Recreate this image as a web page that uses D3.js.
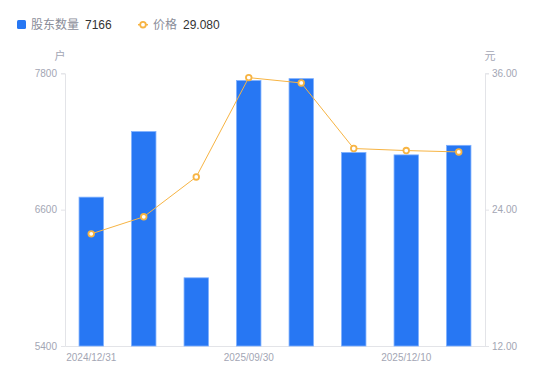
<!DOCTYPE html>
<html>
<head>
<meta charset="utf-8">
<script src="https://cdn.jsdelivr.net/npm/d3@7"></script>
<style>
  body { margin: 0; background: #fff; }
  svg { display: block; font-family: "Liberation Sans", "Noto Sans CJK SC", sans-serif; }
</style>
</head>
<body>
<div id="chart"></div>
<script>
// ---------------- data ----------------
const dates = ["2024/12/31", "2025/03/31", "2025/06/30", "2025/09/30", "2025/10/31", "2025/11/30", "2025/12/10", "2025/12/20"];
const holders = [6710, 7287, 6000, 7736, 7753, 7103, 7082, 7166];
const prices = [21.87, 23.37, 26.88, 35.62, 35.15, 29.38, 29.20, 29.08];
const holderTicks = [5400, 6600, 7800];
const priceTicks = [12, 24, 36];
const shownDates = ["2024/12/31", "2025/09/30", "2025/12/10"];

// ---------------- layout ----------------
const width = 550, height = 381;
const plotLeft = 65, plotRight = 485, plotTop = 73.3, plotBottom = 346;
const barColor = "#2777f3";
const lineColor = "#f7b443";
const axisColor = "#e3e4e8";
const labelColor = "#a3a6b4";

const svg = d3.select("#chart").append("svg")
  .attr("width", width)
  .attr("height", height);

// ---------------- scales ----------------
const x = d3.scaleBand().domain(dates).range([plotLeft, plotRight]).padding(0);
const yL = d3.scaleLinear().domain([5400, 7800]).range([plotBottom, plotTop]);
const yR = d3.scaleLinear().domain([12, 36]).range([plotBottom, plotTop]);
const barW = x.bandwidth() * 0.465;

// ---------------- axes ----------------
const leftAxis = svg.append("g")
  .attr("transform", `translate(${plotLeft},0)`)
  .call(d3.axisLeft(yL).tickValues(holderTicks).tickSize(4).tickPadding(4).tickFormat(d3.format("d")));

const rightAxis = svg.append("g")
  .attr("transform", `translate(${plotRight},0)`)
  .call(d3.axisRight(yR).tickValues(priceTicks).tickSize(4).tickPadding(3).tickFormat(d3.format(".2f")));

[leftAxis, rightAxis].forEach(g => {
  g.select(".domain").attr("stroke", axisColor);
  g.selectAll(".tick line").attr("stroke", axisColor);
  g.selectAll(".tick text")
    .attr("fill", labelColor)
    .attr("font-size", 10);
});

const bottomAxis = svg.append("g")
  .attr("transform", `translate(0,${plotBottom})`)
  .call(d3.axisBottom(x).tickValues(shownDates).tickSize(0).tickPadding(8));
bottomAxis.select(".domain").attr("stroke", axisColor);
bottomAxis.selectAll(".tick text")
  .attr("fill", labelColor)
  .attr("font-size", 10);

// unit labels
svg.append("text")
  .attr("x", 60).attr("y", 60)
  .attr("text-anchor", "middle")
  .attr("fill", labelColor)
  .attr("font-size", 11)
  .text("户");
svg.append("text")
  .attr("x", 490).attr("y", 60)
  .attr("text-anchor", "middle")
  .attr("fill", labelColor)
  .attr("font-size", 11)
  .text("元");

// ---------------- bars ----------------
svg.append("g")
  .selectAll("rect")
  .data(holders)
  .join("rect")
  .attr("x", (d, i) => x(dates[i]) + (x.bandwidth() - barW) / 2)
  .attr("y", d => yL(d))
  .attr("width", barW)
  .attr("height", d => plotBottom - yL(d))
  .attr("fill", barColor)
  .attr("stroke", "#7eb0ff")
  .attr("stroke-width", 0.8);

// ---------------- line ----------------
const line = d3.line()
  .x((d, i) => x(dates[i]) + x.bandwidth() / 2)
  .y(d => yR(d));

svg.append("path")
  .datum(prices)
  .attr("d", line)
  .attr("fill", "none")
  .attr("stroke", lineColor)
  .attr("stroke-width", 1);

svg.append("g")
  .selectAll("circle")
  .data(prices)
  .join("circle")
  .attr("cx", (d, i) => x(dates[i]) + x.bandwidth() / 2)
  .attr("cy", d => yR(d))
  .attr("r", 2.8)
  .attr("fill", "#fff")
  .attr("stroke", lineColor)
  .attr("stroke-width", 1.8);

// ---------------- legend ----------------
const legend = svg.append("g").attr("font-size", 12);
legend.append("rect")
  .attr("x", 17).attr("y", 20).attr("width", 9).attr("height", 9).attr("rx", 1.5)
  .attr("fill", barColor);
legend.append("text").attr("x", 31).attr("y", 29).attr("fill", "#8a8d99").text("股东数量");
legend.append("text").attr("x", 85).attr("y", 29).attr("fill", "#333").text(holders[holders.length - 1]);

legend.append("line")
  .attr("x1", 138).attr("x2", 148).attr("y1", 24.7).attr("y2", 24.7)
  .attr("stroke", lineColor).attr("stroke-width", 1.5);
legend.append("circle")
  .attr("cx", 143).attr("cy", 24.7).attr("r", 2.8)
  .attr("fill", "#fff").attr("stroke", lineColor).attr("stroke-width", 1.8);
legend.append("text").attr("x", 153).attr("y", 29).attr("fill", "#8a8d99").text("价格");
legend.append("text").attr("x", 183).attr("y", 29).attr("fill", "#333").text(prices[prices.length - 1].toFixed(3));
</script>
</body>
</html>
